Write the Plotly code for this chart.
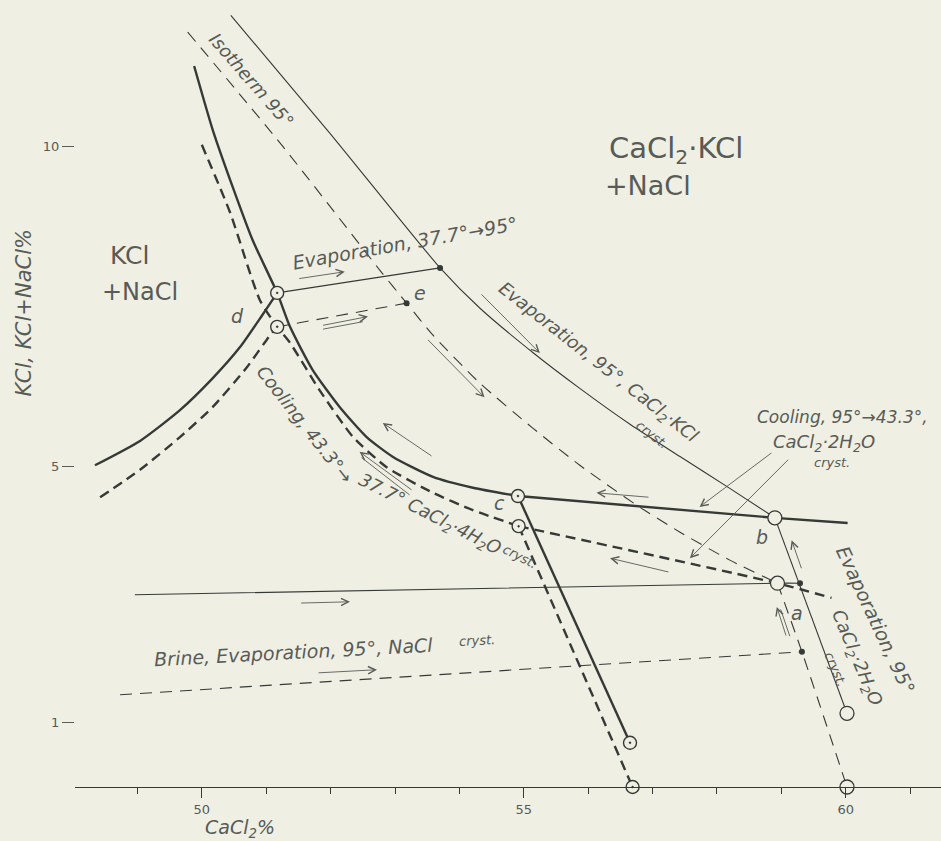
import plotly.graph_objects as go

# ---------------- data (x = CaCl2 %, y = KCl or KCl+NaCl %) ----------------
# thick solid KCl/NaCl boundary, upper branch through d to c
kcl_solid_x = [49.88, 50.17, 50.48, 50.79, 51.17, 51.37, 51.72, 52.14, 52.56, 52.97, 53.59, 54.21, 54.91]
kcl_solid_y = [11.25, 10.25, 9.36, 8.53, 7.71, 7.18, 6.51, 5.93, 5.46, 5.15, 4.84, 4.67, 4.54]
# thick solid c -> b -> right end
cb_solid_x = [54.91, 58.90, 60.03]
cb_solid_y = [4.54, 4.20, 4.12]
# thick solid c -> down
c_down_solid_x = [54.91, 56.65]
c_down_solid_y = [4.54, 0.69]
# thick solid left branch (KCl+NaCl) into d
left_solid_x = [48.34, 49.04, 49.66, 50.17, 50.59, 50.93, 51.17]
left_solid_y = [5.02, 5.40, 5.88, 6.38, 6.86, 7.35, 7.71]

# thick dashed boundary (lower temperature)
kcl_dash_x = [50.00, 50.44, 50.90, 51.17, 51.37, 51.83, 52.35, 52.87, 53.59, 54.21, 54.92]
kcl_dash_y = [10.02, 8.96, 7.60, 7.18, 6.93, 6.19, 5.46, 4.99, 4.59, 4.32, 4.07]
ca_dash_x = [54.92, 58.94, 59.78]
ca_dash_y = [4.07, 3.18, 2.95]
c_down_dash_x = [54.92, 56.69]
c_down_dash_y = [4.07, 0.0]
left_dash_x = [48.42, 49.04, 49.66, 50.17, 50.70, 51.06, 51.17]
left_dash_y = [4.52, 4.95, 5.46, 5.93, 6.55, 7.05, 7.18]

# thin solid 95 deg isotherm (CaCl2.KCl field) and b -> down
iso_solid_x = [50.45, 51.99, 53.70, 54.32, 55.14, 55.87, 56.65, 57.42, 58.20, 58.90]
iso_solid_y = [12.04, 10.20, 8.10, 7.47, 6.78, 6.22, 5.66, 5.16, 4.66, 4.20]
b_down_x = [58.90, 60.02]
b_down_y = [4.20, 1.15]

# thin dashed 95 deg isotherm and a -> down
iso_dash_x = [49.78, 51.27, 52.76, 53.18, 53.59, 54.32, 55.14, 55.87, 56.75, 57.42, 58.20, 58.94]
iso_dash_y = [11.78, 9.98, 8.07, 7.55, 7.05, 6.30, 5.60, 5.02, 4.40, 3.98, 3.54, 3.18]
a_down_x = [58.94, 59.32, 60.02]
a_down_y = [3.18, 2.11, 0.0]

# evaporation paths
evap_solid_x = [51.17, 53.70]
evap_solid_y = [7.71, 8.10]
evap_dash_x = [51.17, 53.18]
evap_dash_y = [7.18, 7.55]
brine_solid_x = [48.96, 58.94, 59.29]
brine_solid_y = [3.00, 3.18, 3.18]
brine_dash_x = [48.73, 59.32]
brine_dash_y = [1.44, 2.11]

# points
dotcircle_x = [51.17, 51.17, 54.91, 54.92, 56.65, 56.69]
dotcircle_y = [7.71, 7.18, 4.54, 4.07, 0.69, 0.0]
open_x = [58.90, 58.94, 60.02, 60.02]
open_y = [4.20, 3.18, 1.15, 0.0]
solid_pt_x = [53.70, 53.18, 59.29, 59.32]
solid_pt_y = [8.10, 7.55, 3.18, 2.11]

# arrows: tail x, tail y, head x, head y, with head?
arrow_tail_x = [51.49, 51.86, 51.86, 53.49, 54.32, 53.59, 53.28, 53.25, 56.96, 57.27, 58.87, 59.13, 59.32, 59.08, 59.14, 51.52, 51.79]
arrow_tail_y = [7.93, 7.20, 7.14, 7.00, 7.71, 5.15, 4.62, 4.54, 4.52, 3.35, 5.23, 5.13, 3.39, 2.34, 2.33, 2.87, 1.78]
arrow_head_x = [52.22, 52.58, 52.50, 54.39, 55.25, 52.81, 52.45, 52.48, 56.13, 56.34, 57.73, 57.58, 59.16, 58.93, 58.99, 52.30, 52.72]
arrow_head_y = [8.04, 7.34, 7.26, 6.08, 6.77, 5.68, 5.23, 5.14, 4.59, 3.57, 4.37, 3.57, 3.85, 2.81, 2.77, 2.89, 1.83]
arrow_has_head = [1, 1, 0, 1, 1, 1, 1, 0, 1, 1, 1, 1, 1, 1, 0, 1, 1]

# text labels
label_text = [
    "CaCl<sub>2</sub>·KCl", "+NaCl", "KCl", "+NaCl",
    "<i>Isotherm 95°</i>", "<i>Evaporation, 37.7°→95°</i>",
    "<i>Evaporation, 95°, CaCl<sub>2</sub>·KCl</i>", "<i>cryst.</i>",
    "<i>Cooling, 95°→43.3°,</i>", "<i>CaCl<sub>2</sub>·2H<sub>2</sub>O</i>", "<i>cryst.</i>",
    "<i>Evaporation, 95°</i>", "<i>CaCl<sub>2</sub>·2H<sub>2</sub>O</i>", "<i>cryst.</i>",
    "<i>Cooling, 43.3°→</i>", "<i>37.7° CaCl<sub>2</sub>·4H<sub>2</sub>O</i>", "<i>cryst.</i>",
    "<i>Brine, Evaporation, 95°, NaCl</i>", "<i>cryst.</i>",
    "<i>d</i>", "<i>e</i>", "<i>c</i>", "<i>b</i>", "<i>a</i>",
]
label_x = [57.36, 56.93, 48.88, 49.04, 50.78, 53.15, 56.15, 56.99, 59.95, 59.66, 59.78,
           60.47, 60.16, 59.84, 51.60, 53.54, 54.94, 51.43, 54.28, 50.56, 53.39, 54.63, 58.70, 59.25]
label_y = [9.94, 9.38, 8.30, 7.72, 11.03, 8.49, 6.61, 5.50, 5.77, 5.37, 5.07,
           2.61, 2.01, 1.83, 5.65, 4.24, 3.60, 2.11, 2.28, 7.35, 7.71, 4.43, 3.90, 2.71]
label_size = [29, 27, 25, 24, 18, 19, 18, 13, 17, 18, 13,
              19, 18, 13, 18, 18, 13, 19, 13, 19, 19, 19, 19, 19]
label_angle = [0, 0, 0, 0, 49, -10, 38, 38, 0, 0, 0,
               65, 67, 67, 52, 27, 27, -3, -3, 0, 0, 0, 0, 0]

x_range = [48.03, 61.48]
y_range = [0, 12.28]
y_ticks = [1, 5, 10]

# ---------------- styling ----------------
BG = "#efefe4"
INK = "#363a36"
TXT = "#585b56"
FONT = "DejaVu Sans"

fig = go.Figure()


def add_line(x, y, width, dash=None):
    fig.add_trace(go.Scatter(
        x=x, y=y, mode="lines",
        line=dict(color=INK, width=width, dash=dash, shape="spline", smoothing=0.6),
        hoverinfo="skip", showlegend=False, cliponaxis=False))


THICK = 2.4
THIN = 1.1
add_line(kcl_solid_x, kcl_solid_y, THICK)
add_line(cb_solid_x, cb_solid_y, THICK)
add_line(c_down_solid_x, c_down_solid_y, THICK)
add_line(left_solid_x, left_solid_y, THICK)
add_line(kcl_dash_x, kcl_dash_y, THICK, "10px,6px")
add_line(ca_dash_x, ca_dash_y, THICK, "10px,6px")
add_line(c_down_dash_x, c_down_dash_y, THICK, "10px,6px")
add_line(left_dash_x, left_dash_y, THICK, "10px,6px")
add_line(iso_solid_x, iso_solid_y, THIN)
add_line(b_down_x, b_down_y, THIN)
add_line(iso_dash_x, iso_dash_y, THIN, "12px,8px")
add_line(a_down_x, a_down_y, THIN, "12px,8px")
add_line(evap_solid_x, evap_solid_y, THIN)
add_line(evap_dash_x, evap_dash_y, THIN, "12px,8px")
add_line(brine_solid_x, brine_solid_y, THIN)
add_line(brine_dash_x, brine_dash_y, THIN, "12px,8px")

fig.add_trace(go.Scatter(
    x=dotcircle_x, y=dotcircle_y, mode="markers",
    marker=dict(symbol="circle-dot", size=13, color=BG, line=dict(color=INK, width=1.4)),
    hoverinfo="skip", showlegend=False, cliponaxis=False))
fig.add_trace(go.Scatter(
    x=open_x, y=open_y, mode="markers",
    marker=dict(symbol="circle", size=14, color=BG, line=dict(color=INK, width=1.3)),
    hoverinfo="skip", showlegend=False, cliponaxis=False))
fig.add_trace(go.Scatter(
    x=solid_pt_x, y=solid_pt_y, mode="markers",
    marker=dict(symbol="circle", size=6, color=INK, line=dict(width=0)),
    hoverinfo="skip", showlegend=False, cliponaxis=False))

annotations = []
for tx, ty, hx, hy, hh in zip(arrow_tail_x, arrow_tail_y, arrow_head_x, arrow_head_y, arrow_has_head):
    annotations.append(dict(
        x=hx, y=hy, ax=tx, ay=ty, xref="x", yref="y", axref="x", ayref="y",
        text="", showarrow=True, arrowhead=5 if hh else 0, arrowsize=1.6,
        arrowwidth=0.9, arrowcolor=TXT, standoff=0, startstandoff=0))

for t, x, y, s, a in zip(label_text, label_x, label_y, label_size, label_angle):
    annotations.append(dict(
        x=x, y=y, xref="x", yref="y", text=t, showarrow=False, textangle=a,
        font=dict(family=FONT, size=s, color=TXT), xanchor="center", yanchor="middle"))

# axis titles
annotations.append(dict(
    x=50.59, y=0, xref="x", yref="y", yshift=-41, text="<i>CaCl<sub>2</sub>%</i>",
    showarrow=False, font=dict(family=FONT, size=19, color=TXT)))
annotations.append(dict(
    x=0, y=7.39, xref="paper", yref="y", xshift=-51, xanchor="center", yanchor="middle",
    text="<i>KCl, KCl+NaCl%</i>",
    textangle=-90, showarrow=False, font=dict(family=FONT, size=21, color=TXT)))

fig.update_layout(
    width=941, height=841,
    margin=dict(l=75, r=0, t=0, b=54),
    paper_bgcolor=BG, plot_bgcolor=BG,
    showlegend=False,
    annotations=annotations,
    xaxis=dict(
        range=x_range, showgrid=False, zeroline=False,
        showline=True, linecolor=INK, linewidth=1.2,
        ticks="outside", tick0=50, dtick=5, ticklen=10, tickwidth=1.2, tickcolor=INK,
        minor=dict(tick0=50, dtick=1, ticks="outside", ticklen=6, tickwidth=1.1, tickcolor=INK, showgrid=False),
        tickfont=dict(family=FONT, size=13, color=TXT),
    ),
    yaxis=dict(
        range=y_range, showgrid=False, zeroline=False, showline=False,
        tickvals=y_ticks, ticktext=[str(v) for v in y_ticks],
        ticks="outside", ticklen=12, tickwidth=1.2, tickcolor=TXT,
        tickfont=dict(family=FONT, size=13, color=TXT),
    ),
)

fig.write_html(
    "out.html",
    config={"displayModeBar": False},
    post_script="document.body.style.margin='0';document.body.style.overflow='hidden';"
                "document.body.style.background='" + BG + "';",
)
